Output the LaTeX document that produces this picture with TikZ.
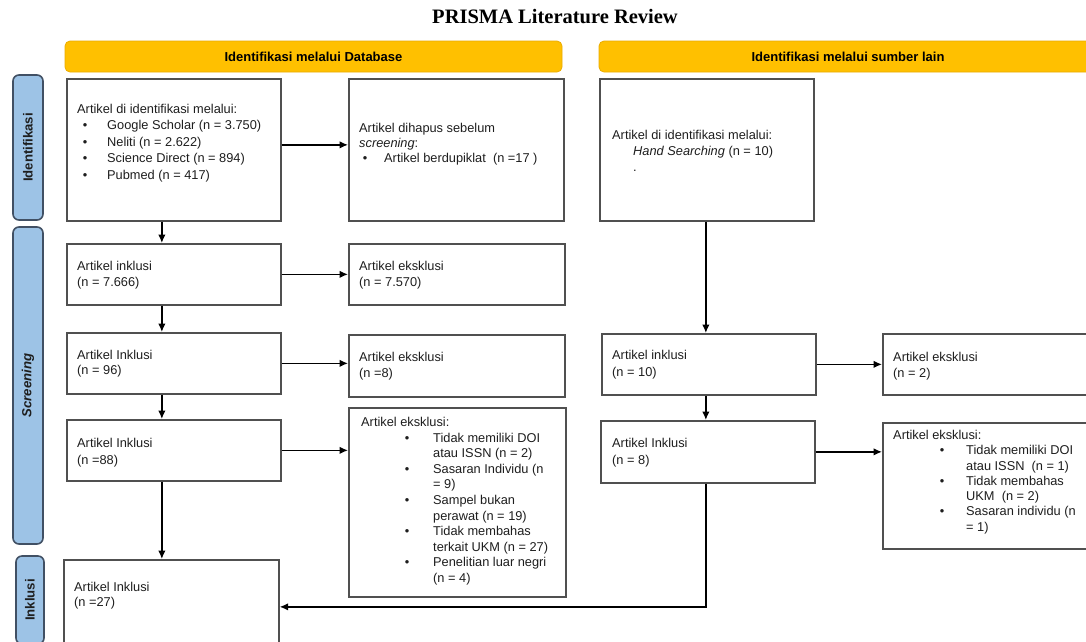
\documentclass[tikz,border=0pt]{standalone}
\usepackage{fontspec}
\setmainfont{Liberation Sans}
\newfontfamily\titlefont{Liberation Serif}
\usetikzlibrary{arrows.meta,calc}
\definecolor{barfill}{RGB}{255,192,0}
\definecolor{bardraw}{RGB}{235,172,0}
\definecolor{sidefill}{RGB}{157,195,230}
\definecolor{sidedraw}{RGB}{65,80,100}
\definecolor{boxdraw}{RGB}{80,80,80}
\definecolor{txtcol}{RGB}{30,30,30}
\begin{document}
\begin{tikzpicture}[x=1pt,y=-1pt,
  box/.style={draw=boxdraw,line width=1.7pt,fill=white,anchor=north west,inner sep=0pt},
  txt/.style={anchor=north west,inner sep=0pt,align=left,text=txtcol,font=\fontsize{12.8}{16}\selectfont},
  bar/.style={draw=bardraw,line width=0.8pt,fill=barfill,rounded corners=5pt,inner sep=0pt,text=black,font=\fontsize{13}{15}\selectfont\bfseries},
  side/.style={draw=sidedraw,line width=1.6pt,fill=sidefill,rounded corners=6pt,rotate=90,inner sep=0pt,text=txtcol,font=\fontsize{13.2}{15}\selectfont\bfseries},
  arr/.style={draw=black,line width=1.4pt,-{Latex[length=8.5pt,width=7.5pt]}}]
\useasboundingbox (0,0) rectangle (1086,641);
\clip (0,0) rectangle (1086,641);
\fill[white] (0,0) rectangle (1086,641);

% title
\node[font={\titlefont\fontsize{20.5}{24}\selectfont\bfseries},text=black] (title) at (555,17) {PRISMA Literature Review};

% header bars
\node[bar,minimum width=497pt,minimum height=31pt] (bar1) at (313.5,56.5) {Identifikasi melalui Database};
\node[bar,minimum width=498pt,minimum height=31pt] (bar2) at (848,56.5) {Identifikasi melalui sumber lain};

% side labels
\node[side,minimum width=145pt,minimum height=30pt] (s1) at (28,147.5) {Identifikasi};
\node[side,minimum width=317pt,minimum height=30pt] (s2) at (28,385.5) {\itshape Screening};
\node[side,minimum width=88pt,minimum height=28pt] (s3) at (30,600) {Inklusi};

% boxes
\node[box,minimum width=214pt,minimum height=142pt] (A) at (66,78) {};
\node[box,minimum width=215pt,minimum height=142pt] (B) at (348,78) {};
\node[box,minimum width=214pt,minimum height=142pt] (C) at (599,78) {};
\node[box,minimum width=214pt,minimum height=61pt] (D) at (66,243) {};
\node[box,minimum width=216pt,minimum height=61pt] (E) at (348,243) {};
\node[box,minimum width=214pt,minimum height=61pt] (F) at (66,332) {};
\node[box,minimum width=216pt,minimum height=62pt] (G) at (348,334) {};
\node[box,minimum width=214pt,minimum height=61pt] (H) at (601,333) {};
\node[box,minimum width=220pt,minimum height=61pt] (I) at (882,333) {};
\node[box,minimum width=214pt,minimum height=61pt] (J) at (66,419) {};
\node[box,minimum width=217pt,minimum height=189pt] (K) at (348,407) {};
\node[box,minimum width=214pt,minimum height=62pt] (L) at (600,420) {};
\node[box,minimum width=220pt,minimum height=126pt] (M) at (882,422) {};
\node[box,minimum width=215pt,minimum height=94pt] (N) at (63,559) {};

% texts
\node[txt,font=\fontsize{12.8}{16.5}\selectfont] (At) at (77,104) {Artikel di identifikasi melalui:\\
\hspace*{5.75pt}\makebox[24.25pt][l]{\textbullet}Google Scholar (n = 3.750)\\
\hspace*{5.75pt}\makebox[24.25pt][l]{\textbullet}Neliti (n = 2.622)\\
\hspace*{5.75pt}\makebox[24.25pt][l]{\textbullet}Science Direct (n = 894)\\
\hspace*{5.75pt}\makebox[24.25pt][l]{\textbullet}Pubmed (n = 417)};
\node[txt,font=\fontsize{12.8}{15}\selectfont] (Bt) at (359,123) {Artikel dihapus sebelum\\
\textit{screening}:\\
\hspace*{3.75pt}\makebox[21.25pt][l]{\textbullet}Artikel berdupiklat~ (n =17 )};
\node[txt] (Ct) at (612,130) {Artikel di identifikasi melalui:\\
\hspace*{21pt}\textit{Hand Searching} (n = 10)\\
\hspace*{21pt}.};
\node[txt] (Dt) at (77,261) {Artikel inklusi\\(n = 7.666)};
\node[txt] (Et) at (359,261) {Artikel eksklusi\\(n = 7.570)};
\node[txt,font=\fontsize{12.8}{15.5}\selectfont] (Ft) at (77,350) {Artikel Inklusi\\(n = 96)};
\node[txt] (Gt) at (359,352) {Artikel eksklusi\\(n =8)};
\node[txt,font=\fontsize{12.8}{17}\selectfont] (Ht) at (612,350) {Artikel inklusi\\(n = 10)};
\node[txt] (It) at (893,352) {Artikel eksklusi\\(n = 2)};
\node[txt,font=\fontsize{12.8}{17}\selectfont] (Jt) at (77,438) {Artikel Inklusi\\(n =88)};
\node[txt,font=\fontsize{12.8}{15.6}\selectfont] (Kt) at (361,417) {Artikel eksklusi:\\
\hspace*{43.75pt}\makebox[28.25pt][l]{\textbullet}Tidak memiliki DOI\\
\hspace*{72pt}atau ISSN (n = 2)\\
\hspace*{43.75pt}\makebox[28.25pt][l]{\textbullet}Sasaran Individu (n\\
\hspace*{72pt}= 9)\\
\hspace*{43.75pt}\makebox[28.25pt][l]{\textbullet}Sampel bukan\\
\hspace*{72pt}perawat (n = 19)\\
\hspace*{43.75pt}\makebox[28.25pt][l]{\textbullet}Tidak membahas\\
\hspace*{72pt}terkait UKM (n = 27)\\
\hspace*{43.75pt}\makebox[28.25pt][l]{\textbullet}Penelitian luar negri\\
\hspace*{72pt}(n = 4)};
\node[txt,font=\fontsize{12.8}{17}\selectfont] (Lt) at (612,438) {Artikel Inklusi\\(n = 8)};
\node[txt,font=\fontsize{12.8}{15.3}\selectfont] (Mt) at (893,430) {Artikel eksklusi:\\
\hspace*{46.75pt}\makebox[26.25pt][l]{\textbullet}Tidak memiliki DOI\\
\hspace*{73pt}atau ISSN~ (n = 1)\\
\hspace*{46.75pt}\makebox[26.25pt][l]{\textbullet}Tidak membahas\\
\hspace*{73pt}UKM~ (n = 2)\\
\hspace*{46.75pt}\makebox[26.25pt][l]{\textbullet}Sasaran individu (n\\
\hspace*{73pt}= 1)};
\node[txt,font=\fontsize{12.8}{15}\selectfont] (Nt) at (74,582) {Artikel Inklusi\\(n =27)};

% connectors
\draw[arr] ([yshift=5pt]A.east) -- ([yshift=5pt]B.west);
\draw[arr] ([xshift=-12pt]A.south) -- ([xshift=-12pt]A.south |- D.north);
\draw[arr] (D.east) -- (D.east -| E.west);
\draw[arr] ([xshift=-12pt]D.south) -- ([xshift=-12pt]D.south |- F.north);
\draw[arr] (F.east) -- (F.east -| G.west);
\draw[arr] ([xshift=-12pt]F.south) -- ([xshift=-12pt]F.south |- J.north);
\draw[arr] (J.east) -- (J.east -| K.west);
\draw[arr] ([xshift=-12pt]J.south) -- ([xshift=-12pt]J.south |- N.north);
\draw[arr] ([xshift=-1pt]C.south) -- ([xshift=-1pt]C.south |- H.north);
\draw[arr] (H.east) -- (H.east -| I.west);
\draw[arr] ([xshift=-1pt]C.south |- H.south) -- ([xshift=-1pt]C.south |- L.north);
\draw[arr] (L.east) -- (L.east -| M.west);
\draw[arr] ([xshift=-1pt]C.south |- L.south) |- (N.east);
\end{tikzpicture}
\end{document}
